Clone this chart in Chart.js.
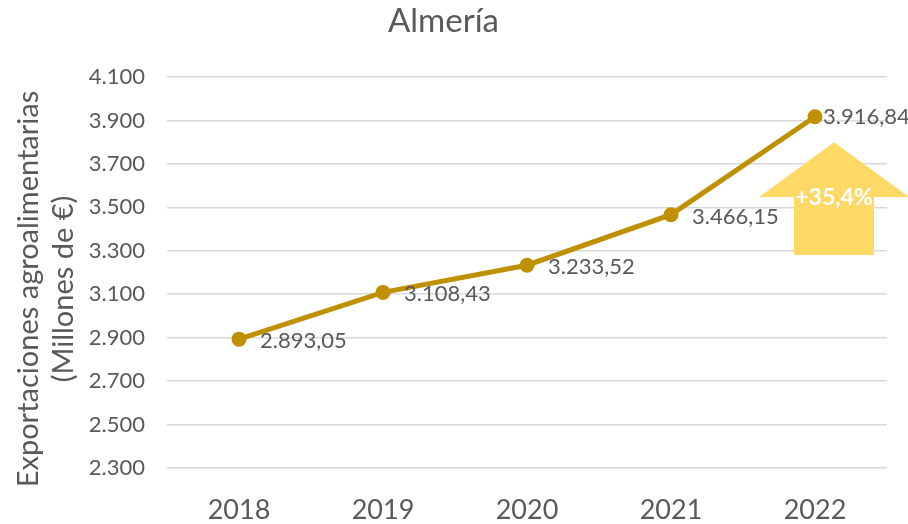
<!DOCTYPE html>
<html><head><meta charset="utf-8">
<script src="https://cdn.jsdelivr.net/npm/chart.js@4/dist/chart.umd.min.js"></script>
<style>html,body{margin:0;padding:0;background:#fff}#wrap{width:908px;height:524px}</style>
</head><body><div id="wrap"><canvas id="c" width="908" height="524"></canvas></div>
<script>
const categories = ['2018','2019','2020','2021','2022'];
const exportValues = [2893.05, 3108.43, 3233.52, 3466.15, 3916.84];
const valueLabels = ['2.893,05','3.108,43','3.233,52','3.466,15','3.916,84'];
const growthLabel = '+35,4%';
const yTitleLines = ['Exportaciones agroalimentarias', '(Millones de €)'];
const FONT = 'Lato, "Open Sans", sans-serif';
const GREY = '#595959';

const labelPlugin = {
  id: 'labels',
  afterDatasetsDraw(chart) {
    const ctx = chart.ctx;
    const meta = chart.getDatasetMeta(0);
    ctx.save();
    ctx.font = '22px ' + FONT;
    ctx.fillStyle = GREY;
    ctx.textAlign = 'left';
    ctx.textBaseline = 'middle';
    const last = meta.data.length - 1;
    meta.data.forEach((p, i) => {
      const dx = i === last ? 8 : 21;
      const dy = i === last ? 0 : 2;
      ctx.fillText(valueLabels[i], p.x + dx, p.y + dy);
    });
    ctx.restore();
  }
};

const yTitlePlugin = {
  id: 'ytitle',
  afterDraw(chart) {
    const ctx = chart.ctx;
    ctx.save();
    ctx.translate(29, 289);
    ctx.rotate(-Math.PI / 2);
    ctx.font = '29px ' + FONT;
    ctx.fillStyle = GREY;
    ctx.textAlign = 'center';
    ctx.textBaseline = 'middle';
    ctx.fillText(yTitleLines[0], 0, 0);
    ctx.fillText(yTitleLines[1], 0, 35);
    ctx.restore();
  }
};

const arrowPlugin = {
  id: 'arrow',
  beforeDatasetsDraw(chart) {
    const ctx = chart.ctx;
    const xs = chart.scales.x, ys = chart.scales.y;
    const cx = xs.getPixelForValue(4) + 19;
    const tip = ys.getPixelForValue(3800);
    const wing = ys.getPixelForValue(3548);
    const bot = ys.getPixelForValue(3280);
    ctx.save();
    ctx.fillStyle = '#FFD966';
    ctx.beginPath();
    ctx.moveTo(cx, tip);
    ctx.lineTo(cx + 75, wing);
    ctx.lineTo(cx + 40, wing);
    ctx.lineTo(cx + 40, bot);
    ctx.lineTo(cx - 40, bot);
    ctx.lineTo(cx - 40, wing);
    ctx.lineTo(cx - 75, wing);
    ctx.closePath();
    ctx.fill();
    ctx.fillStyle = '#ffffff';
    ctx.font = 'bold 23px ' + FONT;
    ctx.textAlign = 'center';
    ctx.textBaseline = 'middle';
    ctx.fillText(growthLabel, cx, wing + 1);
    ctx.restore();
  }
};

new Chart(document.getElementById('c'), {
  type: 'line',
  data: {
    labels: categories,
    datasets: [{
      data: exportValues,
      borderColor: '#BF9000',
      backgroundColor: '#BF9000',
      borderWidth: 5,
      pointRadius: 5,
      pointHoverRadius: 5,
      tension: 0,
      clip: false
    }]
  },
  options: {
    responsive: false,
    animation: false,
    events: [],
    layout: { padding: { left: 0, right: 21, top: 0, bottom: 0 } },
    plugins: {
      legend: { display: false },
      tooltip: { enabled: false },
      title: {
        display: true,
        text: 'Almería',
        color: GREY,
        font: { family: FONT, size: 33, weight: 'normal' },
        padding: { top: 2, bottom: 35.4 }
      }
    },
    scales: {
      x: {
        offset: true,
        grid: { display: false, drawTicks: false },
        border: { display: false },
        ticks: { color: GREY, font: { family: FONT, size: 27 }, padding: 26 },
        afterFit(s) { s.height = 56; }
      },
      y: {
        min: 2300,
        max: 4100,
        grid: { color: '#D9D9D9', lineWidth: 1.5, drawTicks: false },
        border: { display: false },
        ticks: {
          stepSize: 200,
          color: GREY,
          padding: 22,
          font: { family: FONT, size: 22 },
          callback: v => v.toLocaleString('de-DE')
        },
        afterFit(s) { s.width = 167; }
      }
    }
  },
  plugins: [labelPlugin, arrowPlugin, yTitlePlugin]
});
</script></body></html>
